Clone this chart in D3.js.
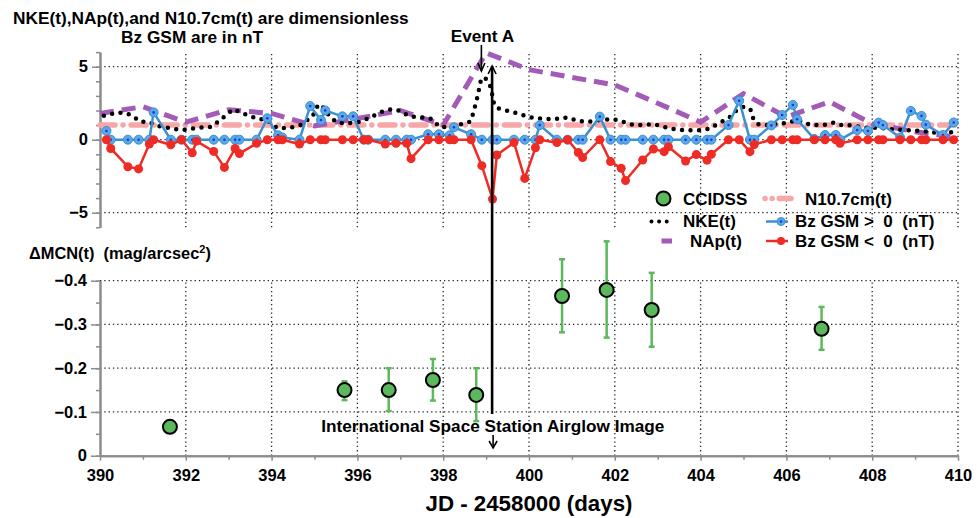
<!DOCTYPE html>
<html>
<head>
<meta charset="utf-8">
<script src="https://cdn.jsdelivr.net/npm/d3@7"></script>
<style>
  body { margin: 0; background: #fff; }
  text { font-family: "Liberation Sans", Arial, Helvetica, sans-serif; font-weight: bold; fill: #000; white-space: pre; }
</style>
</head>
<body>
<script>
// ---- data ----
const xTicks = [390, 392, 394, 396, 398, 400, 402, 404, 406, 408, 410];
const xMinor = [391, 393, 395, 397, 399, 401, 403, 405, 407, 409];
const topTicks = [-5, 0, 5];
const topMinor = [-6, -5, -4, -3, -2, -1, 0, 1, 2, 3, 4, 5, 6];
const botTicks = [0, -0.1, -0.2, -0.3, -0.4];
const botMinor = [0, -0.05, -0.1, -0.15, -0.2, -0.25, -0.3, -0.35, -0.4];

// Bz GSM samples (4 per day)
const bzDay = [
  390.15, 390.25, 390.65, 390.9, 391.15, 391.25, 391.65, 391.9,
  392.15, 392.25, 392.65, 392.9, 393.15, 393.25, 393.65, 393.9,
  394.15, 394.25, 394.65, 394.9, 395.15, 395.25, 395.65, 395.9,
  396.15, 396.25, 396.65, 396.9, 397.15, 397.25, 397.65, 397.9,
  398.15, 398.25, 398.65, 398.9, 399.15, 399.25, 399.65, 399.9,
  400.15, 400.25, 400.65, 400.9, 401.15, 401.25, 401.65, 401.9,
  402.15, 402.25, 402.65, 402.9, 403.15, 403.25, 403.65, 403.9,
  404.15, 404.25, 404.65, 404.9, 405.15, 405.25, 405.65, 405.9,
  406.15, 406.25, 406.65, 406.9, 407.15, 407.25, 407.65, 407.9,
  408.15, 408.25, 408.65, 408.9, 409.15, 409.25, 409.65, 409.9
];
const bzPos = [
  0.6, 0, 0, 0,   0, 1.87, 0, 0,   0, 0, 0, 0,   0, 0, 0, 1.47,
  0.3, 0.15, 0, 2.3,   1.35, 2.0, 1.6, 1.6,   0, 0, 0, 0,   0, 0, 0.37, 0.37,
  0.3, 0.85, 0.37, 0,   0, 0, 0, 0,   0, 1.0, 0, 0,   0, 0, 1.58, 0,
  0, 0, 0, 0,   0, 0, 0, 0,   0, 0, 1.0, 2.67,   0, 0, 0.98, 1.69,
  2.38, 1.4, 0.05, 0.32,   0.32, 0, 0.66, 0.6,   1.17, 1.0, 0.15, 1.97,   1.63, 1.03, 0.32, 1.18
];
const bzNeg = [
  0, -0.6, -1.85, -2.0,   -0.3, 0, -0.35, 0,   -0.9, -0.1, -0.8, -1.9,   -0.6, -0.95, -0.25, 0,
  0, 0, -0.3, 0,   0, 0, 0, 0,   0, 0, -0.3, -0.25,   -0.25, -1.3, 0, 0,
  0, 0, 0, -1.78,   -4.06, -1.05, -0.2, -2.65,   -0.55, 0, -0.2, 0,   -0.88, -1.22, 0, -1.5,
  -1.96, -2.8, -1.39, -0.64,   -0.82, -0.48, -1.46, -1.02,   -1.4, -1.0, 0, 0,   -0.82, -0.33, 0, 0,
  0, 0, 0, 0,   0, -0.25, 0, 0,   0, 0, 0, 0,   0, 0, 0, 0
];

// NKE(t)
const nkeDay = [
  390.09, 390.42, 390.63, 390.78, 390.93, 391.12, 391.33, 391.56, 391.91, 392.33,
  392.61, 392.85, 393.1, 393.43, 393.69, 393.9, 394.13, 394.43, 394.67, 394.95,
  395.09, 395.18, 395.37, 395.53, 395.79, 396.07, 396.25, 396.58, 396.81, 397.0,
  397.19, 397.47, 397.7, 397.93, 398.17, 398.52, 398.63, 398.7, 398.8, 398.87,
  398.95, 399.05, 399.12, 399.17, 399.24, 399.41, 399.61, 399.85, 400.08, 400.39,
  400.62, 400.9, 401.13, 401.37, 401.67, 401.95, 402.14, 402.44, 402.67, 402.9,
  403.3, 403.6, 403.93, 404.19, 404.45, 404.68, 404.87, 405.03, 405.17, 405.22,
  405.33, 405.57, 405.94, 406.27, 406.57, 406.87, 407.11, 407.32, 407.43, 407.9,
  408.13, 408.37, 408.74, 409.02, 409.3, 409.6, 409.9
];
const nkeVal = [
  1.64, 1.87, 1.8, 1.58, 1.23, 1.23, 0.96, 0.82, 0.66, 0.82,
  0.89, 1.46, 2.08, 1.69, 1.42, 1.35, 0.78, 0.82, 1.0, 1.58,
  2.42, 2.3, 1.53, 1.17, 1.12, 1.23, 1.46, 1.92, 2.1, 1.98,
  1.62, 1.53, 1.46, 0.85, 0.89, 1.12, 1.23, 1.8, 2.95, 3.97,
  4.3, 4.0, 3.5, 2.6, 2.19, 2.03, 1.92, 1.69, 1.51, 1.42,
  1.42, 1.53, 1.3, 1.23, 1.35, 1.42, 1.28, 1.0, 1.0, 1.07,
  0.75, 0.66, 0.64, 0.75, 1.15, 1.55, 2.1, 2.28, 2.03, 1.5,
  1.06, 1.0, 1.12, 1.35, 1.0, 1.0, 1.17, 0.96, 1.0, 0.8,
  0.82, 0.74, 0.66, 0.62, 0.55, 0.44, 0.52
];

// NAp(t) and N10.7cm(t), daily
const dailyDay = [390, 391, 392, 393, 394, 395, 396, 397, 398, 399, 400,
                  401, 402, 403, 404, 405, 406, 407, 408, 409, 410];
const napVal = [1.8, 2.26, 1.2, 2.05, 1.8, 0.95, 1.45, 2.0, 1.0, 5.95, 4.8,
                4.27, 3.75, 2.5, 1.2, 3.15, 1.55, 2.6, 1.1, 0.55, 0.15];
const n107Val = [1.0, 1.0, 1.0, 1.0, 1.0, 1.0, 1.0, 1.0, 1.0, 1.0, 1.0,
                 1.0, 1.0, 1.0, 1.0, 1.0, 1.0, 1.0, 1.0, 1.0, 1.0];

// CCIDSS delta MCN with error bars
const ccDay = [391.63, 395.7, 396.73, 397.76, 398.77, 400.77, 401.81, 402.86, 406.82];
const ccVal = [-0.066, -0.15, -0.15, -0.173, -0.139, -0.365, -0.379, -0.333, -0.29];
const ccLow = [null, -0.127, -0.102, -0.126, -0.079, -0.282, -0.27, -0.249, -0.242];
const ccHigh = [null, -0.17, -0.2, -0.221, -0.2, -0.449, -0.49, -0.418, -0.34];

const eventDay = 398.89;
const issDay = 399.14;

// ---- layout ----
const width = 977, height = 518;
const x = d3.scaleLinear().domain([390, 410]).range([100, 958]);
const yTop = d3.scaleLinear().domain([-6, 6]).range([227.3, 52.1]);
const yBot = d3.scaleLinear().domain([0, -0.4]).range([455.7, 280.7]);

const svg = d3.select('body').append('svg')
  .attr('width', width).attr('height', height);

const gridColor = '#222';
const dot = '1.3,3';

function gridLines(yScale, yVals) {
  const g = svg.append('g').attr('stroke', gridColor).attr('stroke-width', 1.3)
    .attr('stroke-dasharray', dot).attr('fill', 'none');
  const [y0, y1] = yScale.range();
  g.selectAll('.v').data(xTicks.slice(1)).enter().append('line')
    .attr('x1', d => x(d)).attr('x2', d => x(d)).attr('y1', y0).attr('y2', y1);
  g.selectAll('.h').data(yVals).enter().append('line')
    .attr('x1', x(390)).attr('x2', x(410)).attr('y1', d => yScale(d)).attr('y2', d => yScale(d));
}
gridLines(yTop, [5, 0, -5]);
gridLines(yBot, [-0.1, -0.2, -0.3, -0.4]);

function styleAxis(g, fs) {
  g.select('.domain').attr('stroke', '#8c8c8c').attr('stroke-width', 2);
  g.selectAll('.tick line').attr('stroke', '#8c8c8c').attr('stroke-width', 1.5);
  g.selectAll('.tick text').style('font-size', fs + 'px')
    .style('font-family', '"Liberation Sans", Arial, sans-serif').style('font-weight', 'bold');
  g.attr('font-family', null).attr('font-size', null);
}

// top-panel left axis
svg.append('g').attr('transform', 'translate(100,0)')
  .call(d3.axisLeft(yTop).tickValues(topMinor).tickSize(4).tickSizeOuter(0).tickFormat(''))
  .call(g => styleAxis(g, 16.5));
svg.append('g').attr('transform', 'translate(100,0)')
  .call(d3.axisLeft(yTop).tickValues(topTicks).tickSize(8).tickPadding(4).tickSizeOuter(0).tickFormat(d3.format('d')))
  .call(g => styleAxis(g, 16.5));

// bottom-panel axes
svg.append('g').attr('transform', 'translate(100,0)')
  .call(d3.axisLeft(yBot).tickValues(botMinor).tickSize(4).tickSizeOuter(0).tickFormat(''))
  .call(g => styleAxis(g, 16.5));
svg.append('g').attr('transform', 'translate(100,0)')
  .call(d3.axisLeft(yBot).tickValues(botTicks).tickSize(9).tickPadding(4).tickSizeOuter(0)
    .tickFormat(d => d === 0 ? '0' : d3.format('.1f')(d)))
  .call(g => styleAxis(g, 16.5));
svg.append('g').attr('transform', `translate(0,${yBot(0)})`)
  .call(d3.axisBottom(x).tickValues(xMinor).tickSize(4).tickSizeOuter(0).tickFormat(''))
  .call(g => styleAxis(g, 16.5));
svg.append('g').attr('transform', `translate(0,${yBot(0)})`)
  .call(d3.axisBottom(x).tickValues(xTicks).tickSize(5).tickPadding(9).tickSizeOuter(0).tickFormat(d3.format('d')))
  .call(g => styleAxis(g, 16.5));

// ---- top panel series ----
const line = d3.line();
const n107Pts = dailyDay.map((d, i) => [x(d), yTop(n107Val[i])]);
const napPts = dailyDay.map((d, i) => [x(d), yTop(napVal[i])]);
const nkePts = nkeDay.map((d, i) => [x(d), yTop(nkeVal[i])]);
const posPts = bzDay.map((d, i) => [x(d), yTop(bzPos[i])]);
const negPts = bzDay.map((d, i) => [x(d), yTop(bzNeg[i])]);

const pink = '#f7a7a7', purple = '#a35bb8', blue = '#3b8fd2', blueFill = '#5aa8e6',
  red = '#ee2b25', green = '#5cb85c';

svg.append('path').attr('d', line(n107Pts)).attr('fill', 'none').attr('stroke', pink)
  .attr('stroke-width', 5.5).attr('stroke-linecap', 'round').attr('stroke-dasharray', '15,8,0.1,8');
svg.append('path').attr('d', line(napPts)).attr('fill', 'none').attr('stroke', purple)
  .attr('stroke-width', 5).attr('stroke-dasharray', '14,8');
svg.append('path').attr('d', line(nkePts)).attr('fill', 'none').attr('stroke', '#000')
  .attr('stroke-width', 4.5).attr('stroke-linecap', 'round').attr('stroke-dasharray', '0,8.5');

svg.append('path').attr('d', line(posPts)).attr('fill', 'none').attr('stroke', blue).attr('stroke-width', 2.5);
svg.append('g').selectAll('circle').data(posPts).enter().append('circle')
  .attr('cx', d => d[0]).attr('cy', d => d[1]).attr('r', 4.5).attr('fill', blueFill)
  .attr('stroke', blue).attr('stroke-width', 1);
svg.append('g').selectAll('circle').data(posPts).enter().append('circle')
  .attr('cx', d => d[0]).attr('cy', d => d[1]).attr('r', 1.3).attr('fill', '#1c36e0');

svg.append('path').attr('d', line(negPts)).attr('fill', 'none').attr('stroke', red).attr('stroke-width', 2.5);
svg.append('g').selectAll('circle').data(negPts).enter().append('circle')
  .attr('cx', d => d[0]).attr('cy', d => d[1]).attr('r', 4.5).attr('fill', red);

// ---- bottom panel ----
const eb = svg.append('g').attr('stroke', green).attr('stroke-width', 2.5);
ccDay.forEach((d, i) => {
  if (ccLow[i] === null) return;
  const cx = x(d);
  eb.append('line').attr('x1', cx).attr('x2', cx).attr('y1', yBot(ccLow[i])).attr('y2', yBot(ccHigh[i]));
  eb.append('line').attr('x1', cx - 3).attr('x2', cx + 3).attr('y1', yBot(ccLow[i])).attr('y2', yBot(ccLow[i]));
  eb.append('line').attr('x1', cx - 3).attr('x2', cx + 3).attr('y1', yBot(ccHigh[i])).attr('y2', yBot(ccHigh[i]));
});
svg.append('g').selectAll('circle').data(ccDay).enter().append('circle')
  .attr('cx', d => x(d)).attr('cy', (d, i) => yBot(ccVal[i])).attr('r', 7)
  .attr('fill', green).attr('stroke', '#000').attr('stroke-width', 2);

// ---- annotations ----
const ann = svg.append('g').attr('stroke', '#000').attr('fill', 'none');
const ex = x(eventDay), ix = x(issDay);
ann.append('line').attr('x1', ex).attr('x2', ex).attr('y1', 45).attr('y2', 71).attr('stroke-width', 1.6);
ann.append('path').attr('d', `M${ex - 3.5},63L${ex},71L${ex + 3.5},63`).attr('stroke-width', 1.6);
ann.append('line').attr('x1', ix).attr('x2', ix).attr('y1', 66).attr('y2', 414).attr('stroke-width', 2.6);
ann.append('path').attr('d', `M${ix - 4},74L${ix},66L${ix + 4},74`).attr('stroke-width', 1.6);
ann.append('line').attr('x1', ix + 1).attr('x2', ix + 1).attr('y1', 435).attr('y2', 448).attr('stroke-width', 1.6);
ann.append('path').attr('d', `M${ix - 3},441L${ix + 1},448L${ix + 5},441`).attr('stroke-width', 1.6);

svg.append('text').attr('x', ex + 1).attr('y', 41.5).attr('text-anchor', 'middle')
  .style('font-size', '17.2px').text('Event A');
svg.append('text').attr('x', 492.8).attr('y', 431.5).attr('text-anchor', 'middle')
  .style('font-size', '17.2px').text('International Space Station Airglow Image');

svg.append('text').attr('x', 13).attr('y', 24).style('font-size', '17.3px')
  .text('NKE(t),NAp(t),and N10.7cm(t) are dimensionless');
svg.append('text').attr('x', 121).attr('y', 43).style('font-size', '17.3px')
  .text('Bz GSM are in nT');

const yl = svg.append('text').attr('x', 29).attr('y', 259).style('font-size', '16.4px');
yl.append('tspan').text('ΔMCN(t)  (mag/arcsec');
yl.append('tspan').attr('dy', -6.5).style('font-size', '11px').text('2');
yl.append('tspan').attr('dy', 6.5).text(')');

svg.append('text').attr('x', 529).attr('y', 511).attr('text-anchor', 'middle')
  .style('font-size', '22.3px').text('JD - 2458000 (days)');

// ---- legend ----
const lg = svg.append('g');
const lfs = '17px';
lg.append('circle').attr('cx', 663.5).attr('cy', 198.5).attr('r', 7)
  .attr('fill', green).attr('stroke', '#000').attr('stroke-width', 2);
lg.append('text').attr('x', 683).attr('y', 205).style('font-size', lfs).text('CCIDSS');
lg.append('line').attr('x1', 765).attr('x2', 791).attr('y1', 198.5).attr('y2', 198.5)
  .attr('stroke', pink).attr('stroke-width', 5.5).attr('stroke-linecap', 'round').attr('stroke-dasharray', '0.1,7,0.1,7,12,9');
lg.append('text').attr('x', 805).attr('y', 205).style('font-size', lfs).text('N10.7cm(t)');

lg.append('line').attr('x1', 651.5).attr('x2', 667).attr('y1', 221.5).attr('y2', 221.5)
  .attr('stroke', '#000').attr('stroke-width', 4).attr('stroke-linecap', 'round').attr('stroke-dasharray', '0,7.6');
lg.append('text').attr('x', 683).attr('y', 227).style('font-size', lfs).text('NKE(t)');
lg.append('line').attr('x1', 766).attr('x2', 788).attr('y1', 221.5).attr('y2', 221.5)
  .attr('stroke', blue).attr('stroke-width', 2.5);
lg.append('circle').attr('cx', 781).attr('cy', 221.5).attr('r', 4).attr('fill', blueFill).attr('stroke', blue);
lg.append('circle').attr('cx', 781).attr('cy', 221.5).attr('r', 1.3).attr('fill', '#1c36e0');
lg.append('text').attr('x', 795).attr('y', 227).style('font-size', lfs).text('Bz GSM >  0  (nT)');

lg.append('line').attr('x1', 661.5).attr('x2', 672).attr('y1', 241).attr('y2', 241)
  .attr('stroke', purple).attr('stroke-width', 5);
lg.append('text').attr('x', 690).attr('y', 246.5).style('font-size', lfs).text('NAp(t)');
lg.append('line').attr('x1', 766).attr('x2', 788).attr('y1', 241).attr('y2', 241)
  .attr('stroke', red).attr('stroke-width', 2.5);
lg.append('circle').attr('cx', 781).attr('cy', 241).attr('r', 4).attr('fill', red);
lg.append('text').attr('x', 795).attr('y', 246.5).style('font-size', lfs).text('Bz GSM <  0  (nT)');
</script>
</body>
</html>
